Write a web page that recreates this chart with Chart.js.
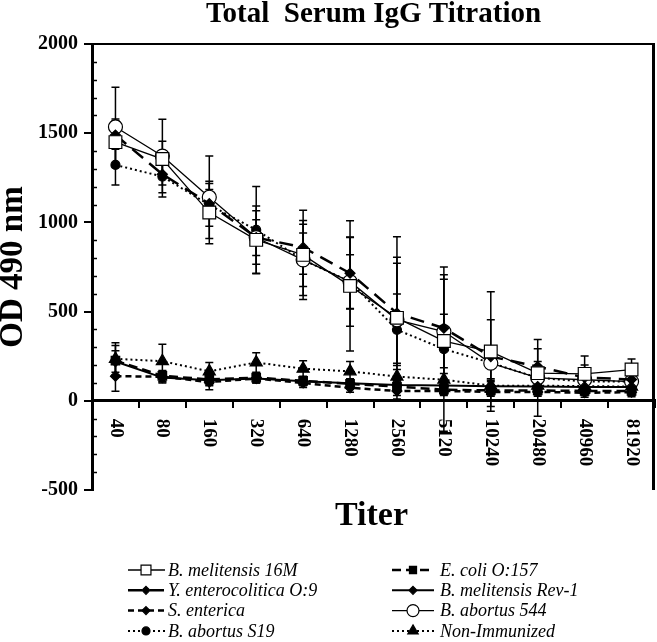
<!DOCTYPE html>
<html><head><meta charset="utf-8">
<script src="https://cdn.jsdelivr.net/npm/chart.js@4.4.1/dist/chart.umd.min.js"></script>
<style>html,body{margin:0;padding:0;background:#fff}#wrap{width:657px;height:642px}</style>
</head><body><div id="wrap"><canvas id="c" width="657" height="642"></canvas></div>
<script>
// ---------- data ----------
const titers = ['40','80','160','320','640','1280','2560','5120','10240','20480','40960','81920'];

const mel16M      = [1450,1355,1055, 902, 818, 644, 465, 335, 276, 155, 151, 175];
const mel16M_sd   = [ 130, 100, 175, 190, 250, 365, 455, 150, 335,  65, 100,  60];
const yent        = [1490,1270,1105, 915, 860, 715, 491, 407, 248, 192, 130, 120];
const yent_sd     = [  80,  60,  80, 100, 150, 200, 280, 300,  56, 100,  70,  40];
const ab544       = [1535,1372,1141, 915, 790, 668, 454, 388, 211, 129, 118, 108];
const ab544_sd    = [ 222, 206, 231, 150, 200, 250, 350, 294, 243, 215,  60,  40];
const abS19       = [1322,1257,1098, 958, 790, 668, 398, 290, 213, 129, 108, 108];
const abS19_sd    = [ 112, 115, 120, 243, 150, 150, 200, 460,  90,  60,  50,  40];

const ecoli       = [ 225, 140, 120, 130, 112,  95,  80,  62,  58,  58,  55,  55];
const ecoli_sd    = [  85,  30,  30,  25,  25,  25,  25,  25,  25,  25,  25,  25];
const rev1        = [ 220, 130, 115, 125, 110,  98,  88,  86,  82,  80,  78,  78];
const rev1_sd     = [  60,  30,  30,  25,  25,  25,  25,  25,  25,  25,  25,  25];
const senterica   = [ 138, 135, 105, 125, 100,  73,  55,  55,  50,  50,  45,  48];
const senterica_sd= [  85,  30,  43,  25,  25,  25,  25,  25,  25,  25,  25,  25];
const nonImm      = [ 235, 222, 165, 215, 180, 165, 136, 118,  85,  85,  82,  80];
const nonImm_sd   = [  90,  95,  50,  55,  45,  55,  40,  35,  30,  30,  30,  30];

const yMin = -500, yMax = 2000, yStep = 500, yMinorStep = 100;

const SERIF = '"Liberation Serif","Times New Roman",serif';

function ds(label, data, sd, o) {
  return {
    label, data, errors: sd,
    borderColor: '#000', borderWidth: o.bw, borderDash: o.dash || [],
    pointStyle: o.ps, pointRadius: o.pr, pointHoverRadius: o.pr,
    pointBackgroundColor: o.fill, pointBorderColor: '#000', pointBorderWidth: 1.2,
    legendRadius: o.lr, fill: false, tension: 0
  };
}

const datasets = [
  ds('B. melitensis 16M', mel16M, mel16M_sd, {bw:1.3, ps:'rect', pr:9, fill:'#fff', lr:7}),
  ds('E. coli O:157', ecoli, ecoli_sd, {bw:2.5, dash:[9,5], ps:'rect', pr:6, fill:'#000', lr:5}),
  ds('Y. enterocolitica O:9', yent, yent_sd, {bw:2.5, dash:[14,8], ps:'rectRot', pr:5, fill:'#000', lr:4}),
  ds('B. melitensis Rev-1', rev1, rev1_sd, {bw:2, ps:'rectRot', pr:5, fill:'#000', lr:4}),
  ds('S. enterica', senterica, senterica_sd, {bw:2.5, dash:[6,4], ps:'rectRot', pr:5, fill:'#000', lr:4}),
  ds('B. abortus 544', ab544, ab544_sd, {bw:1.3, ps:'circle', pr:7, fill:'#fff', lr:6}),
  ds('B. abortus S19', abS19, abS19_sd, {bw:2, dash:[2,3], ps:'circle', pr:4.5, fill:'#000', lr:4}),
  ds('Non-Immunized', nonImm, nonImm_sd, {bw:2, dash:[2,3], ps:'triangle', pr:7, fill:'#000', lr:6})
];

function drawMarker(ctx, style, x, y, r, fill) {
  ctx.save();
  ctx.setLineDash([]);
  ctx.beginPath();
  if (style === 'rect') { const s = r*Math.SQRT1_2; ctx.rect(x-s, y-s, 2*s, 2*s); }
  else if (style === 'rectRot') { ctx.moveTo(x, y-r); ctx.lineTo(x+r, y); ctx.lineTo(x, y+r); ctx.lineTo(x-r, y); ctx.closePath(); }
  else if (style === 'circle') { ctx.arc(x, y, r, 0, Math.PI*2); }
  else if (style === 'triangle') {
    for (let k=0;k<3;k++){ const a = k*2*Math.PI/3; const px = x + Math.sin(a)*r, py = y - Math.cos(a)*r; k?ctx.lineTo(px,py):ctx.moveTo(px,py); }
    ctx.closePath();
  }
  ctx.fillStyle = fill; ctx.fill();
  ctx.lineWidth = 1.2; ctx.strokeStyle = '#000'; ctx.stroke();
  ctx.restore();
}

const errorBars = {
  id: 'errorBars',
  beforeDatasetsDraw(chart) {
    const ctx = chart.ctx, xs = chart.scales.x, ys = chart.scales.y;
    ctx.save();
    ctx.strokeStyle = '#000'; ctx.lineWidth = 1.5; ctx.setLineDash([]);
    chart.data.datasets.forEach(d => {
      d.data.forEach((v, i) => {
        const e = d.errors[i];
        const x = xs.getPixelForValue(i);
        const yt = ys.getPixelForValue(v + e), yb = ys.getPixelForValue(v - e);
        ctx.beginPath();
        ctx.moveTo(x, yt); ctx.lineTo(x, yb);
        ctx.moveTo(x-4, yt); ctx.lineTo(x+4, yt);
        ctx.moveTo(x-4, yb); ctx.lineTo(x+4, yb);
        ctx.stroke();
      });
    });
    ctx.restore();
  }
};

const legendOrder = [[0,1],[2,3],[4,5],[6,7]];

const decor = {
  id: 'decor',
  afterDraw(chart) {
    const ctx = chart.ctx, a = chart.chartArea, xs = chart.scales.x, ys = chart.scales.y;
    ctx.save();
    // frame top and right
    ctx.strokeStyle = '#000'; ctx.setLineDash([]);
    ctx.lineWidth = 2;
    ctx.beginPath(); ctx.moveTo(a.left, a.top); ctx.lineTo(a.right, a.top); ctx.stroke();
    ctx.lineWidth = 3;
    ctx.beginPath(); ctx.moveTo(a.right-1.5, a.top); ctx.lineTo(a.right-1.5, a.bottom); ctx.stroke();
    // minor y ticks inside
    ctx.lineWidth = 1.5;
    for (let v = yMin; v <= yMax; v += yMinorStep) {
      if (v % yStep === 0) continue;
      const y = Math.round(ys.getPixelForValue(v)) + 0.5;
      ctx.beginPath(); ctx.moveTo(a.left, y); ctx.lineTo(a.left + 5, y); ctx.stroke();
    }
    // x tick labels (rotated clockwise)
    ctx.fillStyle = '#000';
    ctx.font = 'bold 19px ' + SERIF;
    ctx.textAlign = 'left'; ctx.textBaseline = 'middle';
    const y0 = ys.getPixelForValue(0);
    titers.forEach((t, i) => {
      const x = xs.getPixelForValue(i);
      ctx.save(); ctx.translate(x, y0 + 18); ctx.rotate(Math.PI/2);
      ctx.fillText(t, 0, 0); ctx.restore();
    });
    // x title
    ctx.font = 'bold 34px ' + SERIF;
    ctx.textAlign = 'center';
    ctx.fillText('Titer', (a.left + a.right)/2 - 2, 516);
    // legend
    ctx.font = 'italic 18px ' + SERIF;
    ctx.textAlign = 'left';
    const cols = [{l0:128, l1:165, m:146, t:168}, {l0:392, l1:434, m:413, t:440}];
    const ds = chart.data.datasets;
    legendOrder.forEach((row, r) => {
      const y = 570 + r*20.3;
      row.forEach((idx, c) => {
        const d = ds[idx], col = cols[c];
        ctx.save();
        ctx.strokeStyle = '#000'; ctx.lineWidth = d.borderWidth;
        ctx.setLineDash(d.borderDash);
        ctx.beginPath(); ctx.moveTo(col.l0, y); ctx.lineTo(col.l1, y); ctx.stroke();
        ctx.restore();
        drawMarker(ctx, d.pointStyle, col.m, y, d.legendRadius, d.pointBackgroundColor);
        ctx.fillStyle = '#000';
        ctx.fillText(d.label, col.t, y + 1);
      });
    });
    ctx.restore();
  }
};

new Chart(document.getElementById('c'), {
  type: 'line',
  data: { labels: titers, datasets },
  options: {
    responsive: false, animation: false, devicePixelRatio: 1,
    layout: { autoPadding: false, padding: { left: 0, right: 2, top: 0, bottom: 152 } },
    plugins: {
      legend: { display: false },
      tooltip: { enabled: false },
      title: {
        display: true, fullSize: false, text: 'Total  Serum IgG Titration', color: '#000',
        font: { family: SERIF, weight: 'bold', size: 29, lineHeight: 1.0 },
        padding: { top: 0, bottom: 15 }
      }
    },
    scales: {
      x: {
        type: 'category', offset: true, position: { y: 0 },
        ticks: { display: false },
        grid: { display: true, offset: true, drawOnChartArea: false, drawTicks: true, tickLength: 6, color: '#000', lineWidth: 2 },
        border: { display: true, color: '#000', width: 3 }
      },
      y: {
        min: yMin, max: yMax,
        ticks: { stepSize: yStep, color: '#000', padding: 6, callback: v => String(v),
                 font: { family: SERIF, weight: 'bold', size: 20 } },
        grid: { drawOnChartArea: false, drawTicks: true, tickLength: 8, color: '#000', lineWidth: 2 },
        border: { display: true, color: '#000', width: 3 },
        title: { display: true, text: 'OD 490 nm', color: '#000', padding: { top: 0, bottom: 0 },
                 font: { family: SERIF, weight: 'bold', size: 33, lineHeight: 0.8 } },
        afterFit(s) { s.width = 92; }
      }
    }
  },
  plugins: [errorBars, decor]
});
</script></body></html>
